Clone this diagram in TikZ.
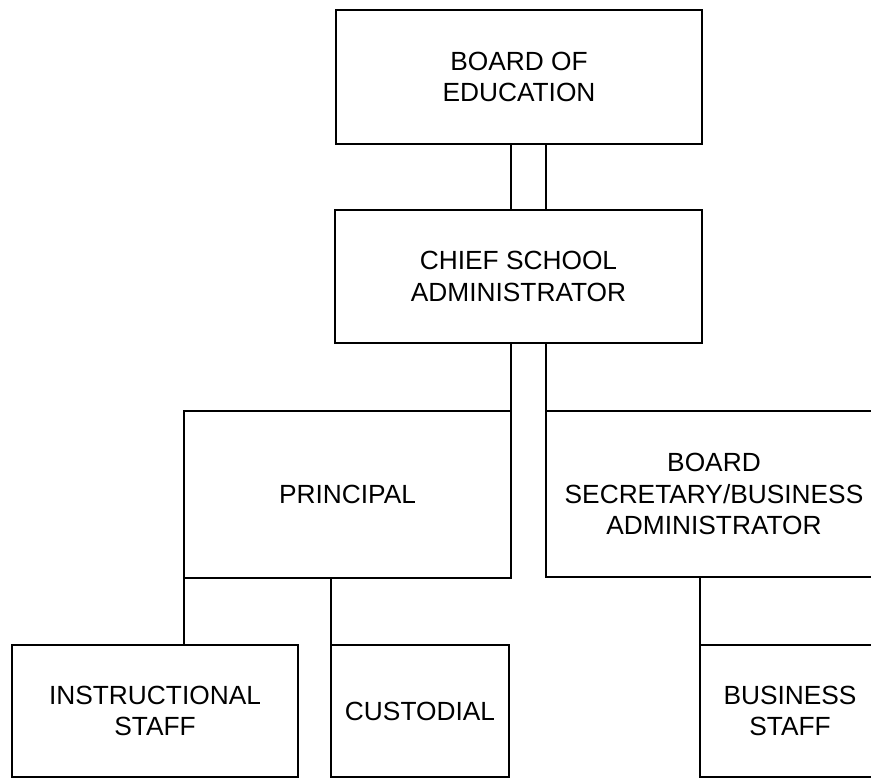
\documentclass[tikz,border=0pt]{standalone}
\usepackage{fontspec}
\setmainfont{Liberation Sans}

\tikzset{
  unit/.style={draw, line width=1.4pt, inner sep=0pt, outer sep=0pt, align=center,
    font=\fontsize{26.3}{31.5}\selectfont},
  link/.style={line width=1.4pt}
}

\begin{document}
\begin{tikzpicture}[x=1pt, y=-1pt]
  \useasboundingbox (0,0) rectangle (871,778);
  \newcommand{\h}{132}

  \node[unit, minimum width=366, minimum height=134] (board) at (519,77) {BOARD OF\\EDUCATION};
  \node[unit, minimum width=367, minimum height=133] (chief) at (518.5,276.5) {CHIEF SCHOOL\\ADMINISTRATOR};

  \node[unit, minimum width=327, minimum height=167] (prin) at (347.5,494.5) {PRINCIPAL};
  \node[unit, minimum width=336, minimum height=166] (sec) at (714,494) {BOARD\\SECRETARY/BUSINESS\\ADMINISTRATOR};

  \node[unit, minimum width=286, minimum height=\h] (instr) at (155,711) {INSTRUCTIONAL\\STAFF};
  \node[unit, minimum width=178, minimum height=\h] (cust) at (420,711) {CUSTODIAL};
  \node[unit, minimum width=180, minimum height=\h] (bus) at (790,711) {BUSINESS\\STAFF};

  % double lines down the middle
  \foreach \x in {prin.north east, sec.north west} {
    \draw[link] (\x |- board.south) -- (\x |- chief.north);
    \draw[link] (\x |- chief.south) -- (\x);
  }

  \draw[link] (prin.south west) -- (prin.south west |- instr.north);
  \draw[link] (cust.north west |- prin.south) -- (cust.north west);
  \draw[link] (bus.north west |- sec.south) -- (bus.north west);

\end{tikzpicture}
\end{document}
